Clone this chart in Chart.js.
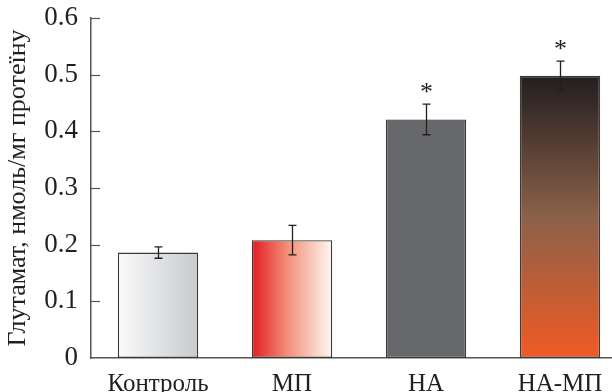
<!DOCTYPE html>
<html>
<head>
<meta charset="utf-8">
<script src="https://cdn.jsdelivr.net/npm/chart.js@4/dist/chart.umd.min.js"></script>
<style>
  html, body { margin: 0; padding: 0; background: #fff; overflow: hidden; }
  #wrap { width: 627px; height: 392px; }
</style>
</head>
<body>
<div id="wrap"><canvas id="chart" width="627" height="392"></canvas></div>
<script>
// Data
const categories = ['Контроль', 'МП', 'НА', 'НА-МП'];
const glutamate = [0.186, 0.208, 0.421, 0.498];
const glutamateErr = [0.010, 0.026, 0.027, 0.026];
const significance = ['', '', '*', '*'];
const yTitle = 'Глутамат, нмоль/мг протеїну';

const FONT = '"Liberation Serif", "DejaVu Serif", serif';
const INK = '#231f20';

// Fill for each bar, built from the bar's pixel box
function barFill(ctx) {
  const chart = ctx.chart;
  const { x, y } = chart.scales;
  if (!chart.chartArea || !x || !y) return '#cccccc';
  const i = ctx.dataIndex;
  const half = (x.width / categories.length) * 0.6 / 2;
  const cx = x.getPixelForValue(i);
  const c = chart.ctx;
  let g;
  switch (i) {
    case 0:
      g = c.createLinearGradient(cx - half, 0, cx + half, 0);
      g.addColorStop(0, '#fbfbfb');
      g.addColorStop(1, '#c8cacd');
      return g;
    case 1:
      g = c.createLinearGradient(cx - half, 0, cx + half, 0);
      g.addColorStop(0, '#e31b23');
      g.addColorStop(0.45, '#f2917a');
      g.addColorStop(1, '#fff7f3');
      return g;
    case 2:
      return '#67686c';
    default:
      g = c.createLinearGradient(0, y.getPixelForValue(glutamate[i]), 0, y.getPixelForValue(0));
      g.addColorStop(0, '#221e1f');
      g.addColorStop(0.5, '#8b6149');
      g.addColorStop(1, '#f15a24');
      return g;
  }
}

// Inward tick marks on the y axis
const innerTicks = {
  id: 'innerTicks',
  afterDraw(chart) {
    const { ctx, scales: { y }, chartArea } = chart;
    ctx.save();
    ctx.strokeStyle = '#555';
    ctx.lineWidth = 1.2;
    y.ticks.forEach(t => {
      if (t.value === 0) return;
      const py = Math.round(y.getPixelForValue(t.value)) + 0.5;
      ctx.beginPath();
      ctx.moveTo(chartArea.left, py);
      ctx.lineTo(chartArea.left + 9, py);
      ctx.stroke();
    });
    ctx.restore();
  }
};

// Error bars and significance marks
const errorBars = {
  id: 'errorBars',
  afterDatasetsDraw(chart) {
    const { ctx, scales: { x, y } } = chart;
    ctx.save();
    ctx.strokeStyle = INK;
    ctx.fillStyle = INK;
    ctx.lineWidth = 1.3;
    glutamate.forEach((v, i) => {
      const px = Math.round(x.getPixelForValue(i)) + 0.5;
      const yTop = y.getPixelForValue(v + glutamateErr[i]);
      const yBot = y.getPixelForValue(v - glutamateErr[i]);
      ctx.beginPath();
      ctx.moveTo(px, yTop); ctx.lineTo(px, yBot);
      ctx.moveTo(px - 4, yTop); ctx.lineTo(px + 4, yTop);
      ctx.moveTo(px - 4, yBot); ctx.lineTo(px + 4, yBot);
      ctx.stroke();
      if (significance[i]) {
        ctx.font = '26px ' + FONT;
        ctx.textAlign = 'center';
        ctx.textBaseline = 'alphabetic';
        ctx.fillText(significance[i], px, yTop - 4);
      }
    });
    ctx.restore();
  }
};

new Chart(document.getElementById('chart'), {
  type: 'bar',
  data: {
    labels: categories,
    datasets: [{
      data: glutamate,
      backgroundColor: barFill,
      borderColor: '#3a3a3a',
      borderWidth: 1.4,
      borderSkipped: false,
      categoryPercentage: 1,
      barPercentage: 0.6
    }]
  },
  options: {
    responsive: false,
    animation: false,
    layout: { padding: { top: 18, left: 0, right: 0, bottom: 0 } },
    plugins: {
      legend: { display: false },
      tooltip: { enabled: false }
    },
    scales: {
      x: {
        grid: { display: false, drawTicks: false },
        border: { display: true, color: '#555', width: 1.5 },
        ticks: {
          color: INK,
          font: { family: FONT, size: 25 },
          padding: 11,
          maxRotation: 0
        },
        afterFit(s) { s.height = 34; s.paddingLeft = 0; s.paddingRight = 0; }
      },
      y: {
        min: 0,
        max: 0.6,
        grid: { display: false, drawTicks: false },
        border: { display: true, color: '#555', width: 1.5 },
        ticks: {
          stepSize: 0.1,
          color: INK,
          font: { family: FONT, size: 27 },
          padding: 13,
          callback: v => v === 0 ? '0' : v.toFixed(1)
        },
        title: {
          display: true,
          text: yTitle,
          color: INK,
          font: { family: FONT, size: 26 },
          padding: { top: 3, bottom: 0 }
        },
        afterFit(s) { s.width = 91; s.paddingTop = 0; s.paddingBottom = 0; }
      }
    }
  },
  plugins: [innerTicks, errorBars]
});
</script>
</body>
</html>
